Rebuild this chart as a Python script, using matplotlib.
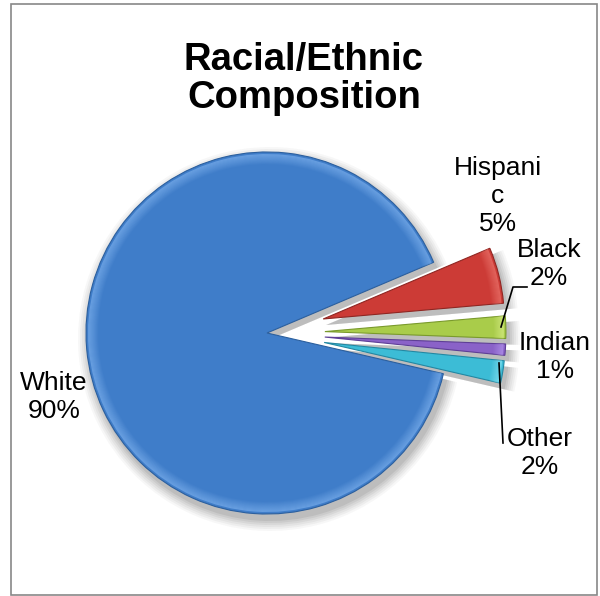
import matplotlib.pyplot as plt
import matplotlib.patches as mpatches
import numpy as np

plt.rcParams['font.family'] = ['Liberation Sans', 'DejaVu Sans']

# slice data
groups = ['White', 'Hispanic', 'Black', 'Indian', 'Other']
display_names = ['White', 'Hispani\nc', 'Black', 'Indian', 'Other']
shares = [90, 5, 2, 1, 2]
colors = ['#3f7dc9', '#cc3b36', '#a9cc4a', '#8a62c8', '#3cbcd6']
edge_colors = ['#2b5f9e', '#8f2622', '#7a9a2c', '#5e3f96', '#2388a3']
light_colors = ['#7fb2ee', '#ee7a72', '#dcf08c', '#b79af0', '#8fe6f5']

fig = plt.figure(figsize=(6.0, 5.96), dpi=100)
ax = fig.add_axes([0, 0, 1, 1])

H = 596
cx, cy = 267, H - 333
R = 181
explode = [0] + [0.32 * R] * 4
start = -13

# soft shadow under the wedges
for k, a in zip([11, 9, 7, 5, 3, 1], [0.04, 0.05, 0.06, 0.07, 0.08, 0.1]):
    ax.pie(shares, radius=R + k, center=(cx + 3, cy - 6), startangle=start,
           counterclock=False, explode=explode, colors=['#444444'] * 5,
           wedgeprops=dict(linewidth=0, alpha=a), frame=True)

wedges, _ = ax.pie(shares, radius=R, center=(cx, cy), startangle=start,
                   counterclock=False, explode=explode, colors=colors,
                   wedgeprops=dict(linewidth=0.8), frame=True)
for w, ec in zip(wedges, edge_colors):
    w.set_edgecolor(ec)

# bevel highlight fading inward from the rim
for w, lc in zip(wedges, light_colors):
    for d in range(2, 12):
        a = 0.6 * (1 - (d - 2) / 10)
        ring = mpatches.Wedge(w.center, R - d, w.theta1, w.theta2, width=1.2,
                              facecolor=lc, edgecolor='none', alpha=a)
        ax.add_patch(ring)

ax.set_xlim(0, 600)
ax.set_ylim(0, 596)
ax.set_aspect('equal')
ax.axis('off')

# labels
label_pos = [(54, 397), (498, 196), (549, 264), (555, 357), (540, 453)]
for name, v, (lx, ly) in zip(display_names, shares, label_pos):
    ax.text(lx, H - ly, f'{name}\n{v}%', ha='center', va='center',
            fontsize=19, linespacing=1.2, color='black')

# leader lines for the thin slices
ax.plot([501, 513, 527], [H - 327, H - 287, H - 287], color='black', lw=1.2)
ax.plot([499, 503], [H - 363, H - 443], color='black', lw=1.2)

ax.text(304, H - 79, 'Racial/Ethnic\nComposition', ha='center', va='center',
        fontsize=27.5, fontweight='bold', linespacing=1.1)

# outer frame
frame = mpatches.Rectangle((11, 1), 586, 591, fill=False, edgecolor='#888888',
                           lw=1.2)
ax.add_patch(frame)

fig.savefig('out.png', dpi=100)
